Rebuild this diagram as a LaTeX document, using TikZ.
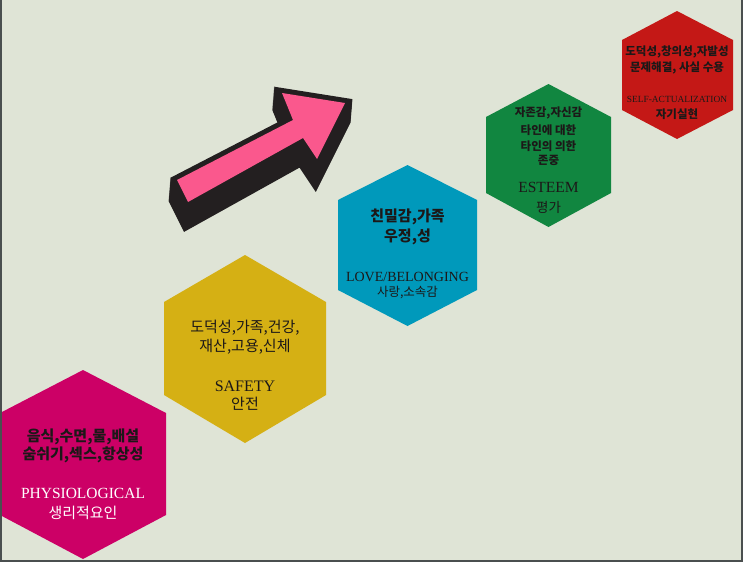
\documentclass[tikz,border=0pt]{standalone}
\usepackage{fontspec}
\setmainfont{Liberation Serif}
\newfontfamily\kr{Noto Sans CJK KR}
\definecolor{bg}{RGB}{223,228,214}
\definecolor{edgegray}{RGB}{74,79,79}
\definecolor{hexmag}{RGB}{204,0,102}
\definecolor{hexgold}{RGB}{213,176,20}
\definecolor{hexblue}{RGB}{0,153,187}
\definecolor{hexgreen}{RGB}{17,134,64}
\definecolor{hexred}{RGB}{196,24,22}
\definecolor{arrowpink}{RGB}{250,88,141}
\definecolor{arrowblack}{RGB}{35,31,32}
\definecolor{txtdark}{RGB}{28,24,24}
\tikzset{
  lbl/.style={inner sep=0pt, anchor=center, text=txtdark},
  krb/.style={lbl, font={\kr\bfseries\fontsize{#1}{#1}\selectfont}},
  krr/.style={lbl, font={\kr\fontsize{#1}{#1}\selectfont}},
  en/.style={lbl, font={\fontsize{#1}{#1}\selectfont}},
  wht/.style={text=white}
}
\begin{document}
\begin{tikzpicture}[x=1pt,y=-1pt]
\useasboundingbox (0,0) rectangle (743,562);
\fill[bg] (0,0) rectangle (743,562);
% hexagons
\fill[hexmag] (83,370) -- (166,413) -- (166,515) -- (83,559) -- (0,515) -- (0,413) -- cycle;
\fill[hexgold] (245,255) -- (326,302) -- (326,395) -- (245,443) -- (164,395) -- (164,302) -- cycle;
\fill[hexblue] (407.5,165) -- (477,200) -- (477,290) -- (407.5,326) -- (338,290) -- (338,200) -- cycle;
\fill[hexgreen] (548.5,84) -- (611,117) -- (611,193) -- (548.5,227) -- (486,193) -- (486,117) -- cycle;
\fill[hexred] (677,11) -- (733,40) -- (733,110) -- (677,139) -- (622,110) -- (622,40) -- cycle;
% arrow with 3D extrusion
\foreach \t in {0,1,...,23}{
  \filldraw[arrowblack, line width=10pt, line join=miter, shift={(-0.08*\t,\t)}]
    (188,202) -- (177,180) -- (293,120) -- (282,93) -- (345,103) -- (317,159) -- (303,138) -- cycle;
}
\fill[arrowpink] (188,202) -- (177,180) -- (293,120) -- (282,93) -- (345,103) -- (317,159) -- (303,138) -- cycle;
% hex 1 texts
\node[krb=15] (p1) at (83,437) {음식,수면,물,배설};
\node[krb=15] (p2) at (83,455) {숨쉬기,섹스,항상성};
\node[en=15.5, wht] (p3) at (83,493) {PHYSIOLOGICAL};
\node[krr=15, wht] (p4) at (83,513) {생리적요인};
% hex 2 texts
\node[krr=15] (s1) at (245,328) {도덕성,가족,건강,};
\node[krr=15] (s2) at (245,347) {재산,고용,신체};
\node[en=16] (s3) at (245,386) {SAFETY};
\node[krr=15] (s4) at (245,404) {안전};
% hex 3 texts
\node[krb=15] (l1) at (407.5,217) {친밀감,가족};
\node[krb=15] (l2) at (407.5,237) {우정,성};
\node[en=14] (l3) at (407.5,277) {LOVE/BELONGING};
\node[krr=12.5] (l4) at (407.5,293) {사랑,소속감};
% hex 4 texts
\node[krb=11.5] (e1) at (548.5,113) {자존감,자신감};
\node[krb=11.5] (e2) at (548.5,130) {타인에 대한};
\node[krb=11.5] (e3) at (548.5,146) {타인의 의한};
\node[krb=11.5] (e4) at (548.5,160) {존중};
\node[en=15.5] (e5) at (548.5,187) {ESTEEM};
\node[krr=13.5] (e6) at (548.5,207) {평가};
% hex 5 texts
\node[krb=11.5] (a1) at (677,52) {도덕성,창의성,자발성};
\node[krb=11.5] (a2) at (677,68) {문제해결, 사실 수용};
\node[en=9.4] (a3) at (677,99) {SELF-ACTUALIZATION};
\node[krb=11.5] (a4) at (677,114) {자기실현};
% frame strips
\fill[edgegray] (0,0) rectangle (1.5,562);
\fill[edgegray] (741,0) rectangle (743,562);
\fill[edgegray] (0,560) rectangle (743,562);
\end{tikzpicture}
\end{document}
